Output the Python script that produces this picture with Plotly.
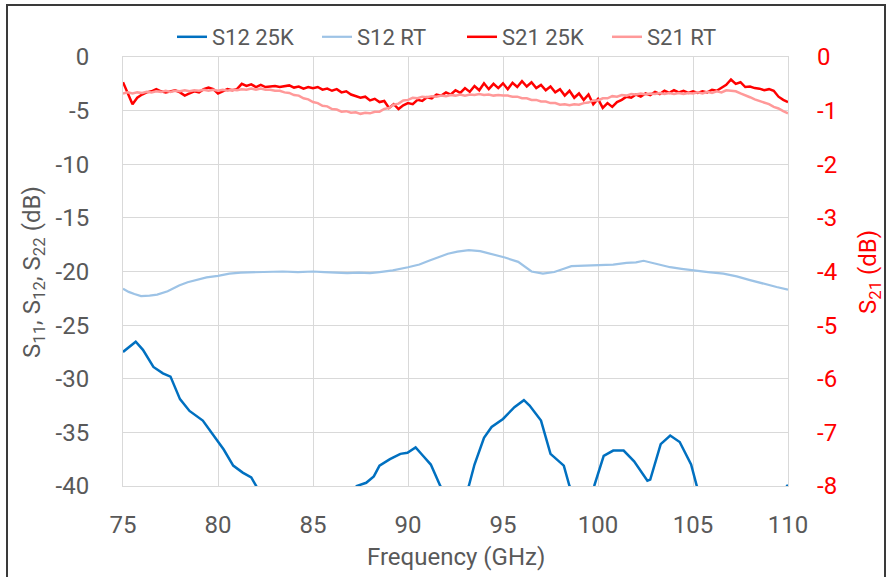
import plotly.graph_objects as go

# ---------------- data ----------------
# S21 (right axis), sampled every 0.25 GHz
freq_s21 = [75.00, 75.25, 75.50, 75.75, 76.00, 76.25, 76.50, 76.75, 77.00, 77.25, 77.50, 77.75,
            78.00, 78.25, 78.50, 78.75, 79.00, 79.25, 79.50, 79.75, 80.00, 80.25, 80.50, 80.75,
            81.00, 81.25, 81.50, 81.75, 82.00, 82.25, 82.50, 82.75, 83.00, 83.25, 83.50, 83.75,
            84.00, 84.25, 84.50, 84.75, 85.00, 85.25, 85.50, 85.75, 86.00, 86.25, 86.50, 86.75,
            87.00, 87.25, 87.50, 87.75, 88.00, 88.25, 88.50, 88.75, 89.00, 89.25, 89.50, 89.75,
            90.00, 90.25, 90.50, 90.75, 91.00, 91.25, 91.50, 91.75, 92.00, 92.25, 92.50, 92.75,
            93.00, 93.25, 93.50, 93.75, 94.00, 94.25, 94.50, 94.75, 95.00, 95.25, 95.50, 95.75,
            96.00, 96.25, 96.50, 96.75, 97.00, 97.25, 97.50, 97.75, 98.00, 98.25, 98.50, 98.75,
            99.00, 99.25, 99.50, 99.75, 100.00, 100.25, 100.50, 100.75, 101.00, 101.25, 101.50, 101.75,
            102.00, 102.25, 102.50, 102.75, 103.00, 103.25, 103.50, 103.75, 104.00, 104.25, 104.50, 104.75,
            105.00, 105.25, 105.50, 105.75, 106.00, 106.25, 106.50, 106.75, 107.00, 107.25, 107.50, 107.75,
            108.00, 108.25, 108.50, 108.75, 109.00, 109.25, 109.50, 109.75, 110.00]

s21_25k = [-0.47, -0.68, -0.88, -0.76, -0.70, -0.66, -0.64, -0.60, -0.64, -0.66, -0.64, -0.62,
           -0.66, -0.72, -0.68, -0.64, -0.66, -0.60, -0.57, -0.60, -0.68, -0.64, -0.60, -0.62,
           -0.60, -0.50, -0.54, -0.51, -0.56, -0.52, -0.56, -0.55, -0.54, -0.56, -0.55, -0.53,
           -0.57, -0.55, -0.59, -0.56, -0.58, -0.56, -0.61, -0.59, -0.63, -0.60, -0.66, -0.64,
           -0.70, -0.73, -0.76, -0.74, -0.81, -0.78, -0.84, -0.82, -0.95, -0.88, -0.97, -0.90,
           -0.86, -0.88, -0.80, -0.82, -0.75, -0.77, -0.70, -0.72, -0.66, -0.70, -0.62, -0.67,
           -0.58, -0.65, -0.54, -0.62, -0.49, -0.60, -0.50, -0.58, -0.49, -0.60, -0.48, -0.56,
           -0.45, -0.55, -0.47, -0.58, -0.52, -0.62, -0.55, -0.66, -0.60, -0.72, -0.63, -0.76,
           -0.68, -0.80, -0.70, -0.88, -0.78, -0.95, -0.86, -0.93, -0.84, -0.80, -0.74, -0.76,
           -0.70, -0.74, -0.68, -0.71, -0.65, -0.69, -0.63, -0.67, -0.62, -0.66, -0.63, -0.67,
           -0.64, -0.67, -0.64, -0.66, -0.61, -0.63, -0.58, -0.52, -0.42, -0.50, -0.47, -0.56,
           -0.55, -0.58, -0.59, -0.62, -0.60, -0.63, -0.74, -0.80, -0.84]

s21_rt = [-0.68, -0.66, -0.68, -0.66, -0.67, -0.65, -0.66, -0.64, -0.65, -0.63, -0.65, -0.63,
          -0.64, -0.62, -0.64, -0.62, -0.63, -0.61, -0.63, -0.61, -0.63, -0.61, -0.63, -0.61,
          -0.62, -0.60, -0.61, -0.59, -0.61, -0.59, -0.61, -0.61, -0.63, -0.63, -0.66, -0.67,
          -0.71, -0.72, -0.77, -0.79, -0.84, -0.86, -0.91, -0.92, -0.97, -0.98, -1.02, -1.01,
          -1.04, -1.03, -1.06, -1.04, -1.05, -1.02, -1.02, -0.97, -0.95, -0.89, -0.87, -0.81,
          -0.80, -0.76, -0.77, -0.74, -0.75, -0.73, -0.74, -0.72, -0.73, -0.71, -0.72, -0.70,
          -0.72, -0.70, -0.71, -0.69, -0.71, -0.70, -0.72, -0.71, -0.72, -0.72, -0.74, -0.74,
          -0.77, -0.77, -0.80, -0.80, -0.83, -0.83, -0.86, -0.86, -0.89, -0.88, -0.90, -0.88,
          -0.89, -0.86, -0.85, -0.81, -0.81, -0.77, -0.77, -0.73, -0.74, -0.71, -0.72, -0.69,
          -0.70, -0.68, -0.70, -0.68, -0.69, -0.67, -0.69, -0.67, -0.69, -0.67, -0.69, -0.67,
          -0.68, -0.66, -0.68, -0.65, -0.67, -0.64, -0.66, -0.62, -0.63, -0.64, -0.68, -0.71,
          -0.75, -0.79, -0.82, -0.86, -0.88, -0.93, -0.96, -1.01, -1.05]

# S12 RT (left axis)
freq_s12_rt = [75.0, 75.3, 75.6, 75.95, 76.4, 76.8, 77.35, 77.95, 78.4, 78.9, 79.4, 80.0, 80.6,
               81.2, 81.9, 82.6, 83.4, 84.2, 85.0, 85.6, 86.2, 86.8, 87.4, 88.0, 88.5, 89.2,
               90.0, 90.6, 91.1, 91.6, 92.1, 92.6, 93.2, 93.8, 94.4, 95.1, 95.8, 96.5, 97.1,
               97.7, 98.2, 98.6, 99.3, 100.0, 100.8, 101.5, 102.0, 102.4, 103.1, 103.8, 104.4,
               105.0, 105.8, 106.6, 107.3, 108.0, 108.7, 109.4, 110.0]
s12_rt = [-21.6, -21.9, -22.1, -22.3, -22.25, -22.15, -21.85, -21.3, -21.0, -20.8, -20.55, -20.4,
          -20.2, -20.1, -20.05, -20.0, -20.0, -20.05, -20.0, -20.05, -20.1, -20.15, -20.1, -20.15,
          -20.05, -19.9, -19.6, -19.35, -19.0, -18.7, -18.35, -18.15, -18.0, -18.1, -18.35, -18.7,
          -19.1, -20.0, -20.2, -20.05, -19.75, -19.5, -19.45, -19.4, -19.35, -19.2, -19.15, -19.0,
          -19.3, -19.6, -19.75, -19.9, -20.05, -20.2, -20.45, -20.8, -21.15, -21.45, -21.7]

# S12 25K (left axis); values below -40 fall outside the axis range
freq_s12_25k = [75.0, 75.35, 75.67, 76.05, 76.6, 77.1, 77.5, 78.0, 78.5, 79.2, 80.0, 80.3, 80.8,
                81.3, 81.75, 82.03, 82.5, 83.5, 84.5, 85.5, 86.5, 87.3, 87.8, 88.2, 88.5, 89.05,
                89.6, 89.97, 90.4, 90.8, 91.2, 91.7, 92.2, 92.7, 93.2, 93.5, 94.0, 94.4, 95.0,
                95.6, 96.1, 96.4, 97.0, 97.5, 97.8, 98.2, 98.5, 99.0, 99.4, 99.8, 100.3, 100.8,
                101.35, 101.9, 102.6, 102.75, 103.3, 103.8, 104.3, 104.9, 105.2, 105.8, 107.0,
                108.0, 109.0, 109.7, 110.0]
s12_25k = [-27.5, -27.0, -26.55, -27.3, -28.9, -29.5, -29.8, -31.9, -33.0, -33.9, -35.8, -36.6, -38.1,
           -38.75, -39.2, -40.0, -41.5, -43.0, -44.0, -43.5, -42.0, -40.0, -39.7, -39.1, -38.1, -37.5,
           -37.0, -36.9, -36.4, -37.2, -38.0, -40.0, -41.5, -41.5, -40.0, -38.0, -35.5, -34.5, -33.75,
           -32.65, -32.0, -32.5, -33.9, -37.0, -37.5, -38.1, -40.0, -41.5, -41.5, -40.0, -37.2, -36.7,
           -36.7, -37.7, -39.5, -39.4, -36.1, -35.3, -35.9, -38.0, -40.0, -42.0, -44.0,
           -44.0, -42.0, -40.5, -39.9]

series_names = ["S12 25K", "S12 RT", "S21 25K", "S21 RT"]
x_ticks = [75, 80, 85, 90, 95, 100, 105, 110]
left_ticks = [0, -5, -10, -15, -20, -25, -30, -35, -40]
left_tick_text = ["0", "-5", "-10", "-15", "-20", "-25", "-30", "-35", "-40"]
right_ticks = [0, -1, -2, -3, -4, -5, -6, -7, -8]
right_tick_text = ["0", "-1", "-2", "-3", "-4", "-5", "-6", "-7", "-8"]

# ---------------- figure ----------------
FONT = "Roboto, 'Open Sans', sans-serif"
GRAY = "#595959"
GRID = "#D9D9D9"

fig = go.Figure()
fig.add_trace(go.Scatter(x=freq_s12_25k, y=s12_25k, name=series_names[0], mode="lines",
                         line=dict(color="#0070C0", width=2.5), yaxis="y"))
fig.add_trace(go.Scatter(x=freq_s12_rt, y=s12_rt, name=series_names[1], mode="lines",
                         line=dict(color="#9DC3E6", width=2.2), yaxis="y"))
fig.add_trace(go.Scatter(x=freq_s21, y=s21_25k, name=series_names[2], mode="lines",
                         line=dict(color="#FF0000", width=2.5), yaxis="y2"))
fig.add_trace(go.Scatter(x=freq_s21, y=s21_rt, name=series_names[3], mode="lines",
                         line=dict(color="#FF9999", width=2.5), yaxis="y2"))

W, H = 889, 577
L, R, T, B = 123, 101, 57, 91
pw, ph = W - L - R, H - T - B

def px_x(px):
    return (px - L) / pw

def px_y(py):
    return (H - B - py) / ph

fig.update_layout(
    width=W, height=H,
    margin=dict(l=L, r=R, t=T, b=B, autoexpand=False),
    paper_bgcolor="white", plot_bgcolor="white",
    font=dict(family=FONT, size=24, color=GRAY),
    showlegend=True,
    legend=dict(orientation="h", x=px_x(172), xanchor="left", y=px_y(37), yanchor="middle",
                font=dict(size=22, color=GRAY), itemwidth=30, entrywidth=100,
                bgcolor="rgba(0,0,0,0)"),
    xaxis=dict(range=[75, 110], tickvals=x_ticks, showgrid=True, gridcolor=GRID, gridwidth=1,
               showline=True, linecolor=GRID, linewidth=1, mirror=True, zeroline=False,
               ticks="", ticklabelstandoff=17, tickfont=dict(size=24, color=GRAY)),
    yaxis=dict(range=[-40, 0], tickvals=left_ticks, ticktext=left_tick_text, showgrid=True,
               gridcolor=GRID, gridwidth=1,
               showline=True, linecolor=GRID, linewidth=1, mirror=True, zeroline=False,
               ticks="", ticklabelstandoff=28, tickfont=dict(size=24, color=GRAY)),
    yaxis2=dict(range=[-8, 0], tickvals=right_ticks, ticktext=right_tick_text, overlaying="y",
                side="right", showgrid=False, zeroline=False, showline=False, ticks="",
                ticklabelstandoff=28, tickfont=dict(size=24, color="#FF0000")),
)

fig.add_annotation(text="Frequency (GHz)", x=0.5, xref="paper", y=px_y(557), yref="paper",
                   showarrow=False, xanchor="center", yanchor="middle",
                   font=dict(size=24, color=GRAY))
fig.add_annotation(text="S<sub>11</sub>, S<sub>12</sub>, S<sub>22</sub> (dB)", x=px_x(33), xref="paper",
                   y=px_y(272), yref="paper", textangle=-90, showarrow=False,
                   xanchor="center", yanchor="middle", font=dict(size=24, color=GRAY))
fig.add_annotation(text="S<sub>21</sub> (dB)", x=px_x(869), xref="paper",
                   y=px_y(272), yref="paper", textangle=-90, showarrow=False,
                   xanchor="center", yanchor="middle", font=dict(size=24, color="#FF0000"))

# outer frame of the picture
fig.add_shape(type="rect", xref="paper", yref="paper",
              x0=px_x(7), x1=px_x(885), y0=px_y(580), y1=px_y(5),
              line=dict(color="#3a3a3a", width=2), fillcolor="rgba(0,0,0,0)", layer="below")

fig.write_html("out.html", config={"displayModeBar": False},
               post_script="document.body.style.margin='0';document.body.style.padding='0';")
